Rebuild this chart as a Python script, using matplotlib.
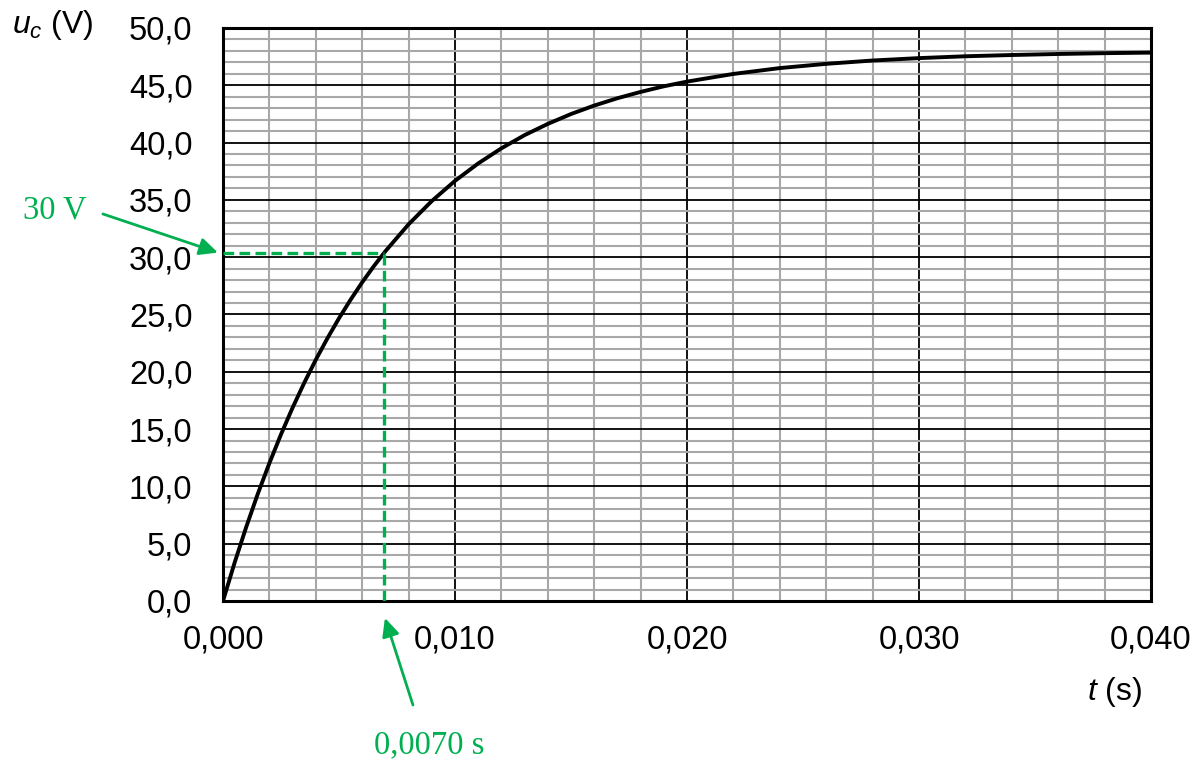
import matplotlib
matplotlib.use("Agg")
import matplotlib.pyplot as plt
from matplotlib.ticker import MultipleLocator, FuncFormatter

plt.rcParams["font.family"] = ["Liberation Sans", "DejaVu Sans"]
plt.rcParams["mathtext.fontset"] = "custom"
plt.rcParams["mathtext.rm"] = "Liberation Sans"
plt.rcParams["mathtext.it"] = "Liberation Sans:italic"

# capacitor charging curve
time_s = [
    0.0000, 0.0005, 0.0010, 0.0015, 0.0020, 0.0025, 0.0030, 0.0035,
    0.0040, 0.0045, 0.0050, 0.0055, 0.0060, 0.0065, 0.0070, 0.0080,
    0.0090, 0.0100, 0.0110, 0.0120, 0.0130, 0.0140, 0.0150, 0.0160,
    0.0170, 0.0180, 0.0190, 0.0200, 0.0220, 0.0240, 0.0260, 0.0280,
    0.0300, 0.0320, 0.0340, 0.0360, 0.0380, 0.0400,
]
voltage_v = [
    0.00, 3.34, 6.45, 9.35, 12.03, 14.54, 16.87, 19.03,
    21.05, 22.92, 24.67, 26.29, 27.81, 29.21, 30.52, 32.87,
    34.90, 36.66, 38.18, 39.50, 40.65, 41.63, 42.49, 43.23,
    43.87, 44.42, 44.91, 45.32, 45.99, 46.50, 46.87, 47.16,
    47.37, 47.53, 47.64, 47.73, 47.80, 47.85,
]

# reading point marked in green
read_t = 0.00695
read_u = 30.4

GREEN = "#00b050"


def comma(fmt):
    return FuncFormatter(lambda v, pos: fmt.format(v).replace(".", ","))


fig = plt.figure(figsize=(11.97, 7.62), dpi=100)
ax = fig.add_axes([0.1863, 0.2113, 0.9616 - 0.1863, 0.9633 - 0.2113])

ax.plot(time_s, voltage_v, color="black", linewidth=2.8, zorder=5)

ax.plot([0, read_t], [read_u, read_u], color=GREEN, linewidth=2.4,
        linestyle=(0, (3.2, 1.6)), zorder=6)
ax.plot([read_t, read_t], [0, read_u], color=GREEN, linewidth=2.4,
        linestyle=(0, (3.2, 1.6)), zorder=6)

ax.set_xlim(0, 0.040)
ax.set_ylim(0, 50)

ax.xaxis.set_major_locator(MultipleLocator(0.010))
ax.xaxis.set_minor_locator(MultipleLocator(0.002))
ax.yaxis.set_major_locator(MultipleLocator(5))
ax.yaxis.set_minor_locator(MultipleLocator(1))

ax.xaxis.set_major_formatter(comma("{:.3f}"))
ax.yaxis.set_major_formatter(comma("{:.1f}"))

ax.grid(which="minor", color="#a8a8a8", linewidth=1.5, zorder=1)
ax.grid(which="major", color="black", linewidth=1.3, zorder=2)
ax.set_axisbelow(True)

ax.tick_params(which="both", length=0)
ax.tick_params(axis="y", labelsize=23.5, pad=22)
ax.tick_params(axis="x", labelsize=23.5, pad=17)

for spine in ax.spines.values():
    spine.set_linewidth(2.2)
    spine.set_color("black")

fig.text(0.010, 0.967, r"$u_c$ (V)", fontsize=23, ha="left", va="center")
fig.text(0.954, 0.092, r"$t$ (s)", fontsize=23, ha="right", va="center")

arrow_style = dict(arrowstyle="-|>,head_length=0.55,head_width=0.26",
                   mutation_scale=20, color=GREEN, linewidth=2.0,
                   shrinkA=0, shrinkB=0)

fig.text(0.0459, 0.7244, "30 V", fontsize=23.5, family="Liberation Serif",
         color=GREEN, ha="center", va="center")
ax.annotate("", xy=(-0.00022, read_u), xytext=(0.0860, 0.7192),
            textcoords="figure fraction", annotation_clip=False,
            arrowprops=arrow_style)

fig.text(0.3584, 0.0223, "0,0070 s", fontsize=23.5, family="Liberation Serif",
         color=GREEN, ha="center", va="center")
ax.annotate("", xy=(0.00698, -1.48), xytext=(0.3450, 0.0748),
            textcoords="figure fraction", annotation_clip=False,
            arrowprops=arrow_style)

fig.savefig("out.png", dpi=100)
